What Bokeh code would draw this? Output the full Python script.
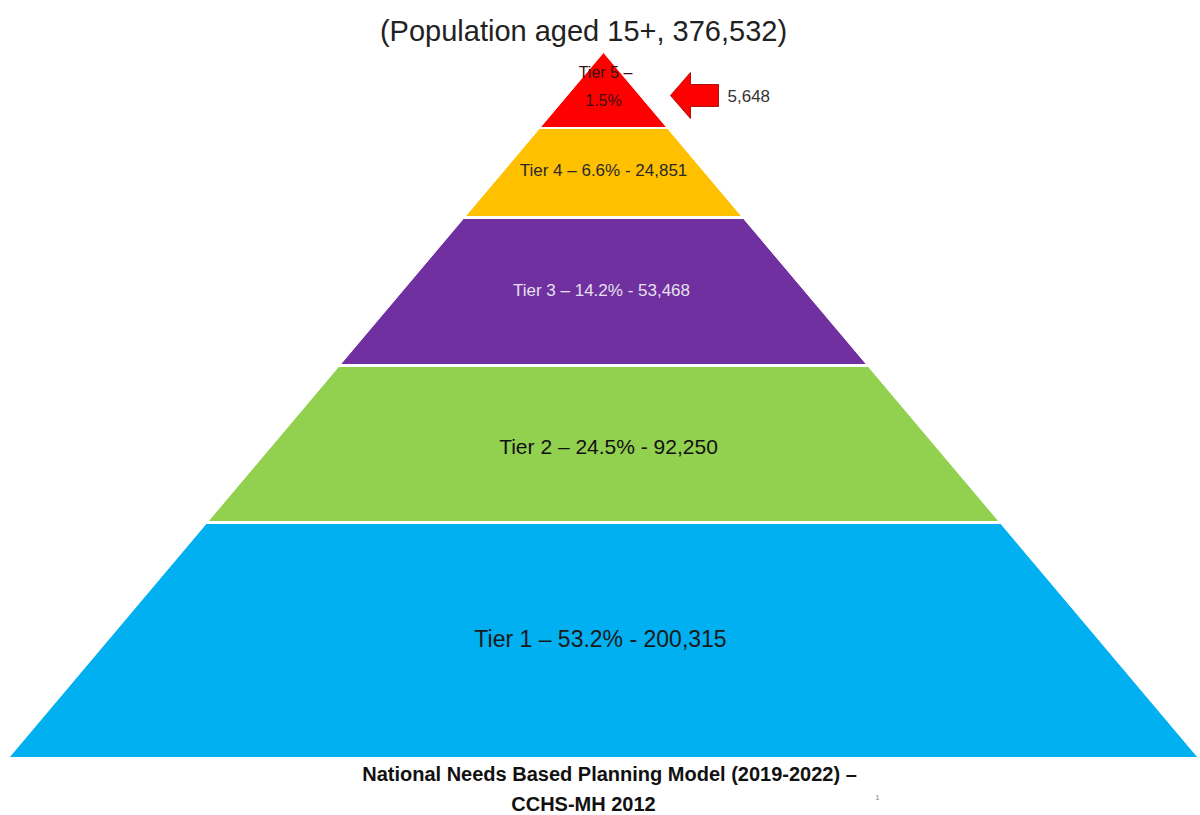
from bokeh.plotting import figure
from bokeh.models import Range1d
from bokeh.core.properties import value
from bokeh.embed import file_html
from bokeh.resources import INLINE

# ---- data ----
tiers = ["Tier 1", "Tier 2", "Tier 3", "Tier 4", "Tier 5"]
percents = ["53.2%", "24.5%", "14.2%", "6.6%", "1.5%"]
counts = ["200,315", "92,250", "53,468", "24,851", "5,648"]
population = "376,532"
colors = ["#00B0F0", "#92D050", "#7030A0", "#FFC000", "#FF0000"]
label_colors = ["#1a1a1a", "#111111", "#E6E0EE", "#2a2a2a", "#3a1010"]
label_sizes = ["23px", "21px", "17px", "17px", "16px"]

# ---- layout (pixel space) ----
W, H = 1200, 815
apex_x, apex_y = 603, 52
base_y, base_left, base_right = 757, 8, 1197
band_bottoms = [757, 521, 364, 216, 127]   # bottom edge of each tier
band_tops = [523, 366, 218, 128, 52]

def half_width(y):
    frac = (y - apex_y) / (base_y - apex_y)
    return frac * (base_right - base_left) / 2

xs, ys = [], []
for b, t in zip(band_bottoms, band_tops):
    hb, ht = half_width(b), half_width(t)
    if t <= apex_y:
        xs.append([apex_x - hb, apex_x + hb, apex_x])
        ys.append([b, b, t])
    else:
        xs.append([apex_x - hb, apex_x + hb, apex_x + ht, apex_x - ht])
        ys.append([b, b, t, t])

p = figure(width=W, height=H, x_range=Range1d(0, W), y_range=Range1d(H, 0),
           output_backend="svg", toolbar_location=None, min_border=0)
p.axis.visible = False
p.grid.visible = False
p.outline_line_color = None
p.background_fill_color = "white"
p.border_fill_color = "white"

p.patches(xs=xs, ys=ys, fill_color=colors, line_color="white", line_width=1)

FONT = value("Liberation Sans")

# tier labels (tiers 1-4)
lab_y = [638, 446, 290, 170]
lab_x = [600, 608, 601, 603]
for i in range(4):
    p.text(x=[lab_x[i]], y=[lab_y[i]],
           text=[f"{tiers[i]} \u2013 {percents[i]} - {counts[i]}"],
           text_align="center", text_baseline="middle",
           text_font=FONT, text_font_size=label_sizes[i],
           text_color=label_colors[i])

# tier 5 label (two lines)
p.text(x=[605, 603], y=[72, 100], text=[f"{tiers[4]} \u2013", percents[4]],
       text_align="center", text_baseline="middle", text_font=FONT,
       text_font_size=label_sizes[4], text_color=label_colors[4])

# arrow pointing at tier 5
tip_x, tip_y = 670, 95
head_len, head_half, body_half, body_end = 20, 23, 11, 718
ax = [tip_x, tip_x + head_len, tip_x + head_len, body_end, body_end, tip_x + head_len, tip_x + head_len]
ay = [tip_y, tip_y - head_half, tip_y - body_half, tip_y - body_half, tip_y + body_half, tip_y + body_half, tip_y + head_half]
p.patch(x=ax, y=ay, fill_color="#FF0000", line_color="#B01010", line_width=1)
p.text(x=[727], y=[95], text=[counts[4]], text_align="left", text_baseline="middle",
       text_font=FONT, text_font_size="17px", text_color="#333333")

# title
p.text(x=[583], y=[30], text=[f"(Population aged 15+, {population})"],
       text_align="center", text_baseline="middle", text_font=FONT,
       text_font_size="29px", text_color="#222222")

# footer
p.text(x=[609, 583], y=[773, 803],
       text=["National Needs Based Planning Model (2019-2022) \u2013", "CCHS-MH 2012"],
       text_align="center", text_baseline="middle", text_font=FONT,
       text_font_style="bold", text_font_size="20px", text_color="#111111")
p.text(x=[877], y=[797], text=["1"], text_align="center", text_baseline="middle",
       text_font=FONT, text_font_size="8px", text_color="#888888")

open("out.html", "w").write(file_html(p, INLINE))
